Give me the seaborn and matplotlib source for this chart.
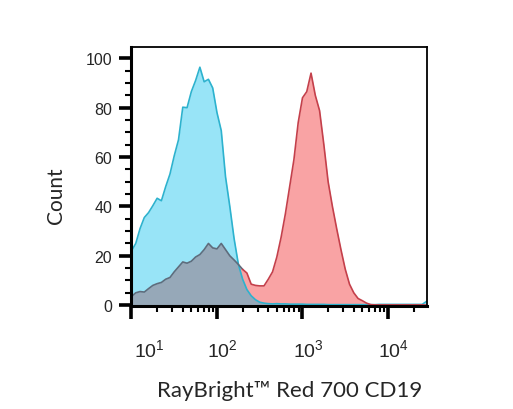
import numpy as np
import matplotlib
matplotlib.use("Agg")
import matplotlib.pyplot as plt
import matplotlib.transforms as mtrans
from matplotlib.ticker import MultipleLocator, LogLocator, NullFormatter
import seaborn as sns

# channel positions (log10 of fluorescence) and counts
channel_log = np.round(np.arange(1.00, 4.4501, 0.05), 2)

unstained = [22, 25, 31, 35.5, 37.5, 40.3, 43.3, 42.3, 48, 53.1,
             60.5, 67, 80.2, 80, 86.5, 91, 96.4, 90.5, 91.5, 88,
             78, 70.7, 52, 40, 27, 16.6, 10.5, 6.3, 3.8, 2.2,
             1.2, 0.8, 0.6, 0.5, 0.6, 0.5, 0.5, 0.4, 0.4, 0.4,
             0.4, 0.3, 0.3, 0.3, 0.3, 0.3, 0.2, 0.2, 0.2, 0.2,
             0.2, 0.2, 0.2, 0.2, 0.2, 0.2, 0.2, 0.2, 0.3, 0.3,
             0.3, 0.3, 0.3, 0.3, 0.3, 0.3, 0.3, 0.3, 0.3, 1.5]

cd19 = [3.5, 5.0, 5.5, 5.3, 6.7, 8.0, 8.7, 9.2, 10.5, 11.2,
        13.5, 15.5, 17.5, 17.0, 17.8, 19.5, 20.5, 22.5, 25, 23.2,
        22.8, 25, 22.5, 20, 18.3, 16.5, 14.5, 13, 8.5, 8,
        7.8, 7.8, 10.5, 13.5, 19.5, 27.5, 37, 48, 59, 74,
        84, 86.5, 94, 85, 78.8, 65, 50, 40, 31, 22.5,
        14.6, 8.5, 5, 2.7, 1.8, 0.8, 0.2, 0.1, 0.1, 0.1,
        0.1, 0.1, 0.1, 0.1, 0.1, 0.1, 0.1, 0.1, 0.1, 0.0]

xtick_vals = [10, 100, 1000, 10000]
xtick_text = [r'$\mathregular{10^{%d}}$' % i for i in range(1, 5)]
ytick_vals = [0, 20, 40, 60, 80, 100]

cyan_fill, cyan_edge = '#98E4F7', '#2DB2CE'
pink_fill, red_edge = '#F9A3A4', '#C4404B'
grey_fill, grey_edge = '#96A8B8', '#5F6C7C'

sns.set_style("ticks")
plt.rcParams['font.family'] = ['Liberation Sans', 'DejaVu Sans']
plt.rcParams['mathtext.fontset'] = 'custom'
plt.rcParams['mathtext.rm'] = 'Liberation Sans'

df = {'x': 10 ** channel_log,
      'unstained': np.array(unstained, dtype=float),
      'cd19': np.array(cd19, dtype=float)}
overlap = np.minimum(df['unstained'], df['cd19'])

fig = plt.figure(figsize=(5.13, 4.10), dpi=100)
ax = fig.add_axes([0.2563, 0.2515, 0.576, 0.6315])

ax.fill_between(df['x'], 0, df['cd19'], color=pink_fill, lw=0)
ax.fill_between(df['x'], 0, df['unstained'], color=cyan_fill, lw=0)
ax.fill_between(df['x'], 0, overlap, color=grey_fill, lw=0)

sns.lineplot(x=df['x'], y=df['unstained'], color=cyan_edge, lw=1.2, ax=ax)
k = int(np.argmax(df['cd19'] > df['unstained']))
sns.lineplot(x=df['x'][:k + 1], y=df['cd19'][:k + 1], color=grey_edge, lw=1.2, ax=ax)
sns.lineplot(x=df['x'][k:], y=df['cd19'][k:], color=red_edge, lw=1.2, ax=ax)

ax.set_xscale('log')
ax.set_xlim(10, 10 ** 4.456)
ax.set_ylim(-0.3, 104.6)

ax.set_yticks(ytick_vals)
ax.set_yticklabels([str(v) for v in ytick_vals], fontsize=11.5, family=['Liberation Sans'])
ax.yaxis.set_minor_locator(MultipleLocator(5))

ax.set_xticks(xtick_vals)
ax.set_xticklabels(xtick_text, fontsize=14)
ax.xaxis.set_minor_locator(LogLocator(base=10, subs=np.arange(2, 10)))
ax.xaxis.set_minor_formatter(NullFormatter())

ax.tick_params(axis='both', which='major', direction='out', length=9, width=2.6, color='black')
ax.tick_params(axis='both', which='minor', direction='out', length=4.5, width=1.5, color='black')
ax.tick_params(axis='x', which='major', pad=14)
ax.tick_params(axis='y', which='major', pad=5)

# base "10" sits over the tick, the first one is nudged right
for i, lab in enumerate(ax.get_xticklabels()):
    dx = 13 if i == 0 else 4
    lab.set_transform(lab.get_transform() + mtrans.ScaledTranslation(dx / 72, 0, fig.dpi_scale_trans))

for side in ['left', 'bottom']:
    ax.spines[side].set_linewidth(2.2)
for side in ['top', 'right']:
    ax.spines[side].set_linewidth(1.3)
for s in ax.spines.values():
    s.set_color('black')

ax.set_xlabel('RayBright™ Red 700 CD19', fontsize=16, family=['Lato', 'DejaVu Sans'])
ax.xaxis.set_label_coords(0.535, -0.285)
ax.set_ylabel('Count', fontsize=15, family=['Lato', 'DejaVu Sans'])
ax.yaxis.set_label_coords(-0.22, 0.43)

fig.savefig('out.png', dpi=100)
